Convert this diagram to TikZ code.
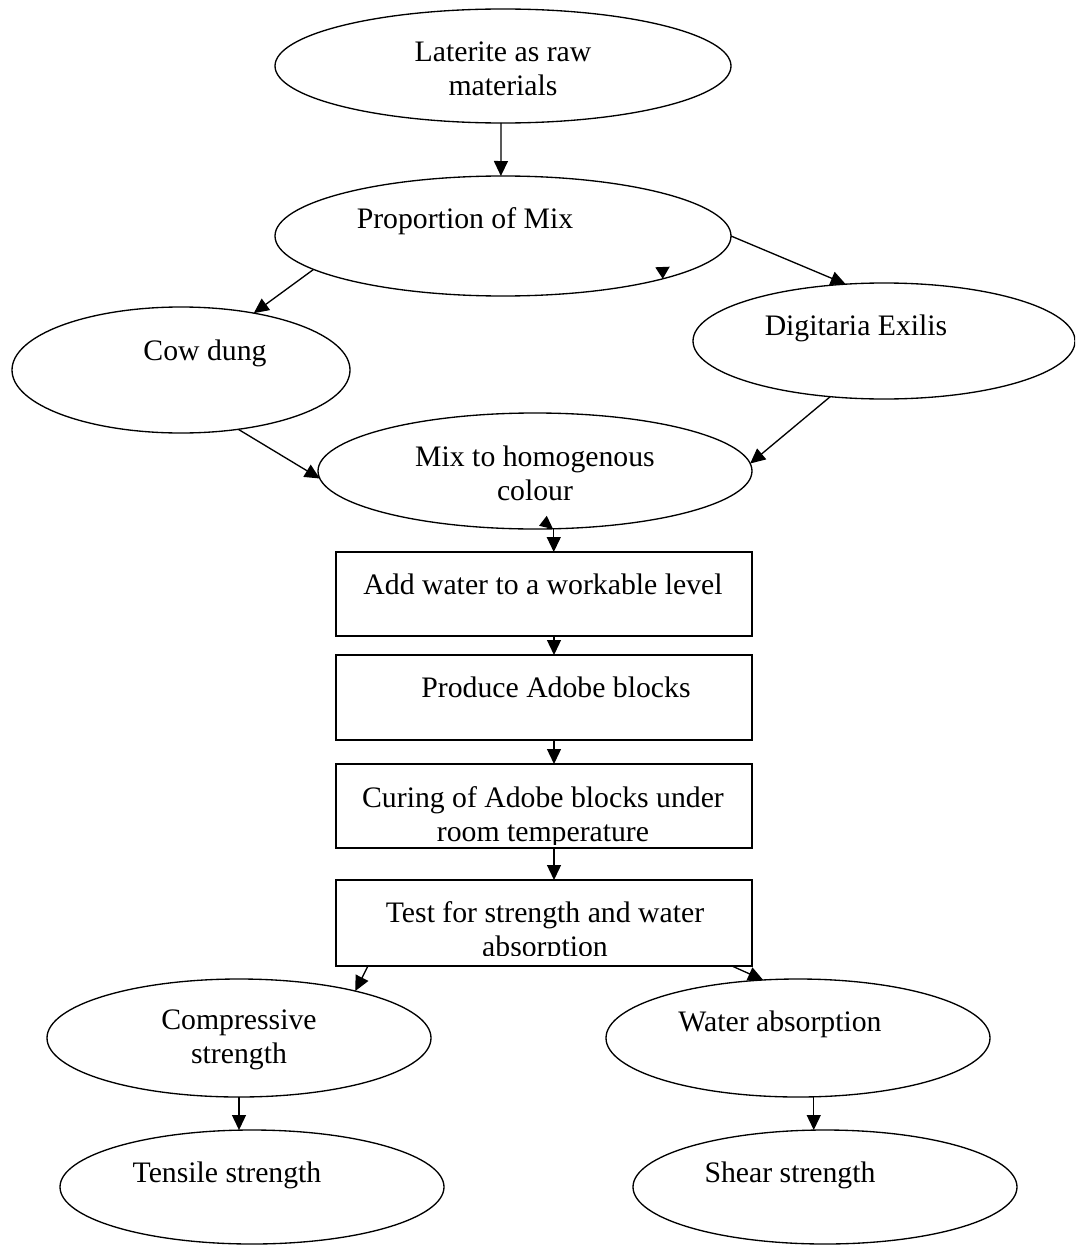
\documentclass[tikz,border=0pt]{standalone}
\usepackage{fontspec}
\setmainfont{Liberation Serif}
\usetikzlibrary{shapes.geometric,arrows.meta,calc}
\begin{document}
\begin{tikzpicture}[x=0.75pt,y=-0.75pt,
  line width=1pt,
  ell/.style 2 args={ellipse,draw,inner sep=0pt,outer sep=0pt,minimum width=#1*1.5pt,minimum height=#2*1.5pt},
  bx/.style 2 args={rectangle,draw,inner sep=0pt,outer sep=0pt,minimum width=#1*0.75pt,minimum height=#2*0.75pt},
  txt/.style={align=center,inner sep=0pt,font=\fontsize{22.3}{25.5}\selectfont},
  arr/.style={-{Triangle[length=11.25pt,width=10.5pt]}}]
\clip (0,0) rectangle (1075,1245);
\fill[white] (0,0) rectangle (1075,1245);
% shapes
\node[ell={228}{57}] (lat) at (503,66) {};
\node[ell={228}{60}] (prop) at (503,236) {};
\node[ell={169}{63}] (cow) at (181,370) {};
\node[ell={191}{58}] (dig) at (884,341) {};
\node[ell={217}{58}] (mix) at (535,471) {};
\node[bx={416}{84}] (b1) at (544,594) {};
\node[bx={416}{85}] (b2) at (544,697.5) {};
\node[bx={416}{84}] (b3) at (544,806) {};
\node[bx={416}{86}] (b4) at (544,923) {};
\node[ell={192}{59}] (comp) at (239,1038) {};
\node[ell={192}{59}] (wat) at (798,1038) {};
\node[ell={192}{57}] (tens) at (252,1187) {};
\node[ell={192}{57}] (shear) at (825,1187) {};
% texts
\node[txt] (tlat) at (503,69) {Laterite as raw\\materials};
\node[txt] (tprop) at (465,221) {Proportion of Mix};
\node[txt] (tcow) at (205,353) {Cow dung};
\node[txt] (tdig) at (856,328) {Digitaria Exilis};
\node[txt] (tmix) at (535,473) {Mix to homogenous\\colour};
\node[txt] (tb1) at (543,584) {Add water to a workable level};
\node[txt] (tb2) at (556,687) {Produce Adobe blocks};
\begin{scope}
\clip (b3.north west) rectangle ($(b3.south east)+(0,-4)$);
\node[txt] (tb3) at (543,817) {Curing of Adobe blocks under\\room temperature};
\end{scope}
\begin{scope}
\clip (b4.north west) rectangle ($(b4.south east)+(0,-11)$);
\node[txt] (tb4) at (545,932) {Test for strength and water\\absorption};
\end{scope}
\node[txt] (tcomp) at (239,1040) {Compressive\\strength};
\node[txt] (twat) at (780,1024) {Water absorption};
\node[txt] (ttens) at (227,1175) {Tensile strength};
\node[txt] (tshear) at (790,1175) {Shear strength};
% connectors
\draw[arr] (lat.268) -- (prop.92);
\draw[arr] (prop.190) -- (cow.38);
\draw[arr] (prop.east) -- (dig.124);
\draw[arr] (cow.314) -- (mix.182);
\draw[arr] (dig.226) -- (mix.2);
\draw[arr] (mix.288) -- (mix.288 |- b1.north);
\draw[arr] ($(b1.south)+(10,0)$) -- ($(b2.north)+(10,0)$);
\draw[arr] ($(b2.south)+(10,0)$) -- ($(b3.north)+(10,0)$);
\draw[arr] ($(b3.south)+(10,0)$) -- ($(b4.north)+(10,0)$);
\draw[arr] ($(b4.south west)+(32,0)$) -- (comp.22);
\draw[arr] ($(b4.south east)+(-20,0)$) -- (wat.121);
\draw[arr] (comp.south) -- (comp.south |- tens.north);
\draw[arr] (wat.285) -- (wat.285 |- shear.north);
% loose arrowheads
\fill (prop.345) -- ++(-7.5,-11.5) -- ++(14.5,-0.6) -- cycle;
\fill ($(mix.288)+(-7,-13)$) -- ++(-7.7,10) -- ++(14,3.3) -- cycle;
\end{tikzpicture}
\end{document}
